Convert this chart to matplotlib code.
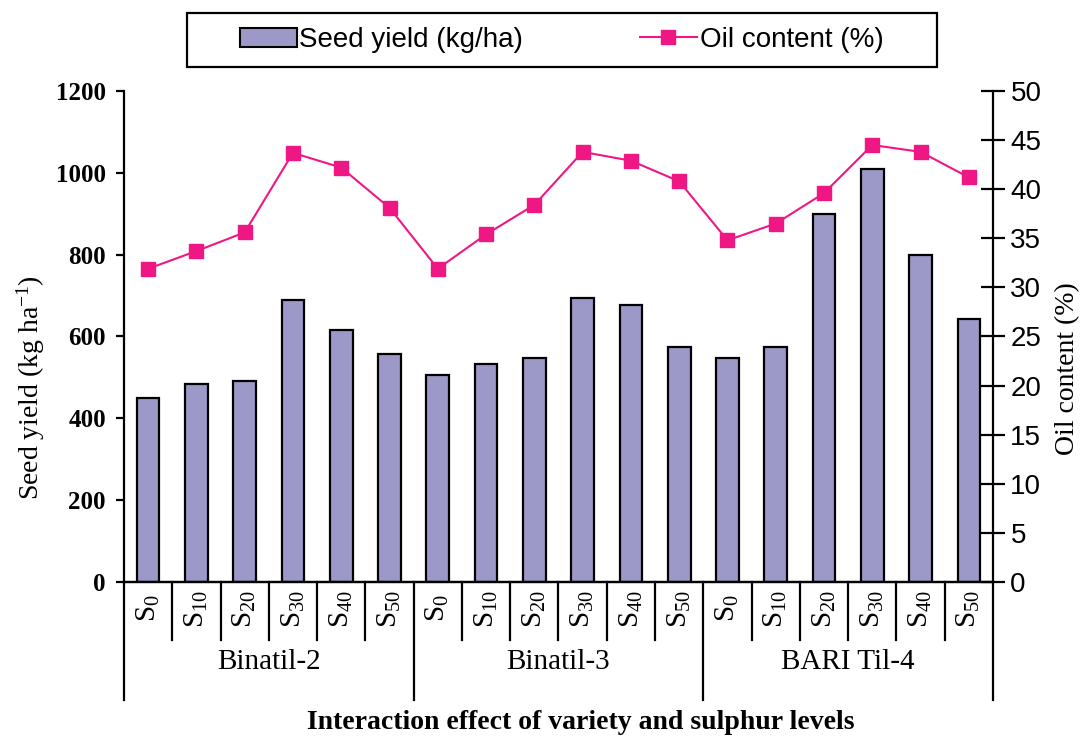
import numpy as np
import matplotlib
matplotlib.use('Agg')
import matplotlib.pyplot as plt
from matplotlib.patches import Patch, Rectangle
from matplotlib.lines import Line2D

plt.rcParams['font.family'] = ['Liberation Serif', 'DejaVu Serif']
plt.rcParams['mathtext.fontset'] = 'custom'
plt.rcParams['mathtext.rm'] = 'Liberation Serif'
plt.rcParams['mathtext.it'] = 'Liberation Serif:italic'

varieties = ['Binatil-2', 'Binatil-3', 'BARI Til-4']
levels = ['0', '10', '20', '30', '40', '50']

seed_yield = [450, 485, 490, 690, 615, 558,
              505, 532, 548, 695, 678, 575,
              548, 575, 900, 1010, 800, 642]
oil_content = [31.9, 33.7, 35.6, 43.7, 42.2, 38.1,
               31.9, 35.4, 38.4, 43.8, 42.9, 40.8,
               34.8, 36.5, 39.6, 44.5, 43.8, 41.2]

bar_col = '#9c99c8'
line_col = '#ee1784'
sans = ['Liberation Sans', 'DejaVu Sans']

fig = plt.figure(figsize=(10.81, 7.38), dpi=100)
ax = fig.add_axes([0.1147, 0.2114, 0.8039, 0.6653])
ax2 = ax.twinx()

x = np.arange(len(seed_yield))
ax.bar(x, seed_yield, width=0.47, color=bar_col, edgecolor='black', linewidth=1.6, zorder=2)
ax2.plot(x, oil_content, color=line_col, lw=1.5, marker='s', ms=10, mec=line_col, zorder=3)

ax.set_xlim(-0.5, len(x) - 0.5)
ax.set_ylim(0, 1200)
ax.set_yticks(np.arange(0, 1201, 200))
ax2.set_ylim(0, 50)
ax2.set_yticks(np.arange(0, 51, 5))
ax.set_xticks([])

for a in (ax, ax2):
    a.spines['top'].set_visible(False)
    for s in a.spines.values():
        s.set_linewidth(1.6)
ax.spines['right'].set_visible(False)
ax2.spines['left'].set_visible(False)

ax.tick_params(axis='y', direction='out', length=6, width=1.6, pad=7)
for lab in ax.get_yticklabels():
    lab.set_fontweight('bold')
    lab.set_fontsize(18)
ax2.tick_params(axis='y', direction='inout', length=17, width=1.6, pad=4, labelsize=20)
for lab in ax2.get_yticklabels():
    lab.set_family(sans)

# x axis decoration: sulphur levels, separators, variety names
tr = ax.get_xaxis_transform()
n = len(levels)
for g, v in enumerate(varieties):
    for k, lv in enumerate(levels):
        i = g * n + k
        ax.text(i, -0.054, 'S$_{' + lv + '}$', rotation=90, transform=tr,
                ha='center', va='center', fontsize=21)
    ax.text(g * n + (n - 1) / 2, -0.163, v, transform=tr, ha='center', va='center', fontsize=21)
for b in np.arange(-0.5, len(x), 1.0):
    low = -0.24 if (b + 0.5) % n == 0 else -0.118
    ax.plot([b, b], [0, low], transform=tr, color='black', lw=1.6, clip_on=False)

fig.text(0.028, 0.475, 'Seed yield (kg ha$^{-1}$)', rotation=90, ha='center', va='center', fontsize=20)
fig.text(0.988, 0.5, 'Oil content (%)', rotation=90, ha='center', va='center', fontsize=20)
fig.text(0.537, 0.012, 'Interaction effect of variety and sulphur levels',
         ha='center', va='baseline', fontsize=20, fontweight='bold')

# legend box drawn separately so it can be wider than its entries
fig.patches.append(Rectangle((187 / 1081, 1 - 67 / 738), 750 / 1081, 54 / 738,
                             transform=fig.transFigure, fill=False,
                             edgecolor='black', linewidth=1.6))
handles = [Patch(facecolor=bar_col, edgecolor='black', linewidth=1.5),
           Line2D([], [], color=line_col, lw=1.5, marker='s', ms=10, mec=line_col)]
fig.legend(handles, ['Seed yield (kg/ha)', 'Oil content (%)'], ncol=2,
           loc='center', bbox_to_anchor=(0.5194, 0.9458), frameon=False,
           prop={'family': sans, 'size': 20},
           handlelength=2.05, handletextpad=0.1, columnspacing=4.2,
           borderpad=0.3, borderaxespad=0)

fig.savefig('out.png', dpi=100)
